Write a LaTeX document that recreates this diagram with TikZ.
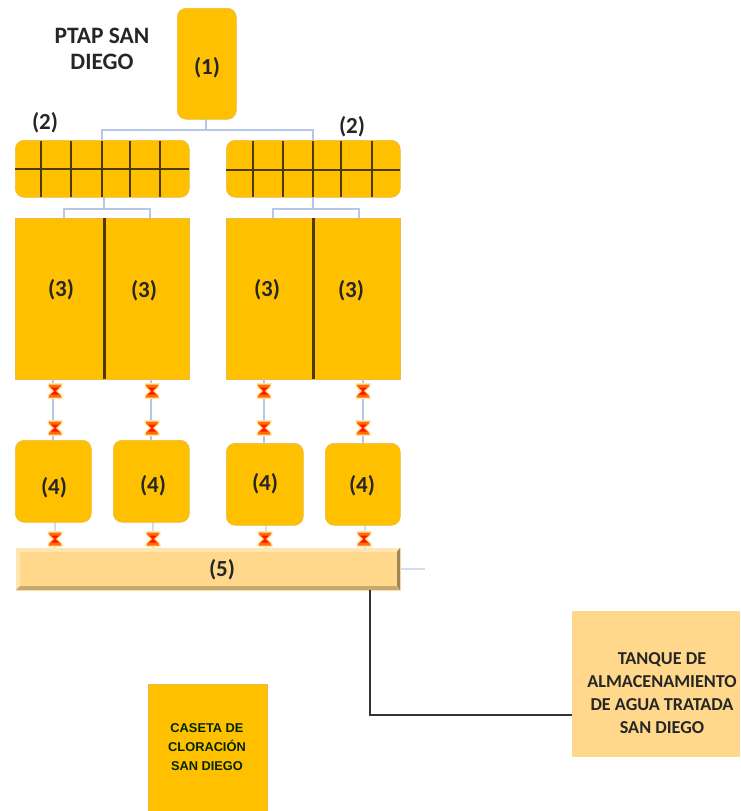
\documentclass[tikz,border=0pt]{standalone}
\usepackage{fontspec}
\setmainfont{Carlito}
\newfontfamily\arialf{Liberation Sans}
\definecolor{gold}{HTML}{FFC000}
\definecolor{goldedge}{HTML}{EDB94A}
\definecolor{pale}{HTML}{FFD88C}
\definecolor{palest}{HTML}{FFE5B0}
\definecolor{pipe}{HTML}{B4C7E7}
\definecolor{txt}{HTML}{262626}
\tikzset{
  x=1pt,y=-1pt,
  numlabel/.style={font=\bfseries\fontsize{23}{25}\selectfont,text=txt,inner sep=0pt},
  roundbox/.style={fill=gold,draw=goldedge,line width=.6pt,rounded corners=9pt,inner sep=0pt,anchor=north west},
  squarebox/.style={fill=gold,draw=goldedge,line width=.4pt,inner sep=0pt,anchor=north west},
  pipeline/.style={draw=pipe,line width=1.3pt},
  pipelight/.style={draw=pipe!60,line width=1.3pt},
  divider/.style={draw=black!70!gold,line width=2.2pt},
  mainline/.style={draw=black!80,line width=1.1pt},
  valve/.pic={
    \fill[palest] (-7.5,-8)--(7.5,-8)--(7.5,-4)--(3,0)--(7.5,4)--(7.5,8)--(-7.5,8)--(-7.5,4)--(-3,0)--(-7.5,-4)--cycle;
    \fill[orange!85!red] (-6.5,-6.5)--(6.5,-6.5)--(5.5,-4)--(1,0)--(5.5,4)--(6.5,6.5)--(-6.5,6.5)--(-5.5,4)--(-1,0)--(-5.5,-4)--cycle;
    \fill[red!85!orange] (-4,-3.5)--(4,-3.5)--(0,0)--(4,3.5)--(-4,3.5)--(0,0)--cycle;
  }
}
\newcommand{\boxnode}[7]{% name, style, x1,y1,x2,y2, text
  \pgfmathsetmacro{\bw}{#5-#3}\pgfmathsetmacro{\bh}{#6-#4}
  \node[#2,minimum width=\bw pt,minimum height=\bh pt] (#1) at (#3,#4) {#7};
}
\begin{document}
\begin{tikzpicture}
\useasboundingbox (0,0) rectangle (740,811);

% coordinates for connector ends
\coordinate (j1) at (206,130);
\coordinate (j2l) at (102,130);
\coordinate (j2r) at (313,130);
\coordinate (t2l) at (102,140);
\coordinate (t2r) at (313,140);
\coordinate (b2l) at (104,197);
\coordinate (b2r) at (313,197);
\coordinate (jl) at (104,209);
\coordinate (jr) at (313,209);

% connectors beneath the boxes
\draw[pipeline] (206,119) -- (j1);
\draw[pipeline] (t2l) -- (j2l) -- (j2r) -- (t2r);
\draw[pipeline] (b2l) -- (jl);
\draw[pipeline] (64,218) -- (64,209) -- (150,209) -- (150,218);
\draw[pipeline] (b2r) -- (jr);
\draw[pipeline] (273,218) -- (273,209) -- (359,209) -- (359,218);

% box 1
\boxnode{n1}{roundbox}{177}{8}{236}{119}{}
\node[numlabel] (l1) at (207,68) {(1)};
\node[font=\bfseries\fontsize{23.5}{26}\selectfont,text=txt,align=center,inner sep=0pt] (title) at (102,49) {PTAP SAN\\DIEGO};

% filters
\boxnode{n2a}{roundbox}{15}{140}{189}{197}{}
\boxnode{n2b}{roundbox}{226}{140}{400}{197}{}
\foreach \x in {41,71,102,130,160}{\draw[divider] (\x,141) -- (\x,197);}
\draw[divider] (15,169) -- (189,169);
\foreach \x in {253,283,313,341,372}{\draw[divider] (\x,141) -- (\x,197);}
\draw[divider] (226,170) -- (400,170);
\node[numlabel] (l2a) at (45,123) {(2)};
\node[numlabel] (l2b) at (352,127) {(2)};

% settling tanks
\boxnode{n3a}{squarebox}{15}{218}{189}{379}{}
\boxnode{n3b}{squarebox}{226}{218}{400}{379}{}
\draw[divider] (104.5,218) -- (104.5,379);
\draw[divider] (313.5,218) -- (313.5,379);
\node[numlabel] at (61,290) {(3)};
\node[numlabel] at (144,291) {(3)};
\node[numlabel] at (267,290) {(3)};
\node[numlabel] at (351,291) {(3)};

% connectors 3-4-5
\foreach \x/\ya/\yb/\yc in {53/440/522/548,151/440/522/548,264/443/525/548,363/443/525/548}{
  \draw[pipeline] (\x,379) -- (\x,\ya);
  \draw[pipelight] (\x+2,\yb) -- (\x+2,\yc);
}

% filter boxes 4
\boxnode{n4a}{roundbox}{15}{440}{91}{522}{}
\boxnode{n4b}{roundbox}{113}{440}{189}{522}{}
\boxnode{n4c}{roundbox}{226}{443}{303}{525}{}
\boxnode{n4d}{roundbox}{325}{443}{400}{525}{}
\node[numlabel] at (54,488) {(4)};
\node[numlabel] at (153,486) {(4)};
\node[numlabel] at (265,484) {(4)};
\node[numlabel] at (362,486) {(4)};

% valves
\foreach \x in {55,152,264,363}{
  \path (\x,391) pic {valve};
  \path (\x,428) pic {valve};
}
\foreach \x in {55,153,265,364}{
  \path (\x,539) pic {valve};
}

% channel 5
\draw[pipelight] (400,569) -- (425,569);
\boxnode{n5}{anchor=north west,fill=pale,draw=palest,line width=.8pt,inner sep=0pt}{16}{548}{400}{590}{}
\fill[palest] (16,548) -- (400,548) -- (396,552) -- (20,552) -- cycle;
\fill[palest] (16,548) -- (20,552) -- (20,586) -- (16,590) -- cycle;
\fill[black!22!pale] (16,590) -- (20,586) -- (396,586) -- (400,590) -- cycle;
\fill[black!38!pale] (400,548) -- (397,552) -- (397,586) -- (400,590) -- cycle;
\node[numlabel] at (222,570) {(5)};

% storage tank
\boxnode{tank}{anchor=north west,fill=pale,draw=none,inner sep=0pt}{572}{611}{740}{757}{}
\node[font=\bfseries\fontsize{18.2}{23}\selectfont,text=txt,align=center,inner sep=0pt] (tanktxt) at (662,693) {TANQUE DE\\ALMACENAMIENTO\\DE AGUA TRATADA\\SAN DIEGO};
\coordinate (o5) at (370,590);
\coordinate (otank) at (572,715);
\draw[mainline] (o5) |- (otank);

% chlorination
\boxnode{caseta}{squarebox}{148}{684}{267}{811}{}
\node[font=\arialf\bfseries\fontsize{12.8}{19}\selectfont,text=black!85!green,align=center,inner sep=0pt] (casetatxt) at (207,747) {CASETA DE\\CLORACIÓN\\SAN DIEGO};
\end{tikzpicture}
\end{document}
